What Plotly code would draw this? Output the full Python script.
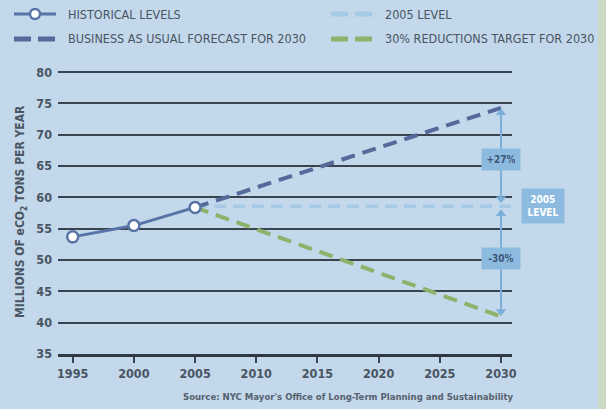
import plotly.graph_objects as go

# ---- data ----
hist_years = [1995, 2000, 2005]
hist_values = [53.7, 55.5, 58.4]
bau_years = [2005, 2030]
bau_values = [58.4, 74.3]
level_years = [2005, 2031.2]
level_values = [58.6, 58.6]
target_years = [2005, 2030]
target_values = [58.4, 41.0]
x_ticks = [1995, 2000, 2005, 2010, 2015, 2020, 2025, 2030]
y_ticks = [35, 40, 45, 50, 55, 60, 65, 70, 75, 80]
legend_labels = ["HISTORICAL LEVELS", "BUSINESS AS USUAL FORECAST FOR 2030",
                 "2005 LEVEL", "30% REDUCTIONS TARGET FOR 2030"]
pct_up, pct_down = "+27%", "-30%"

W, H = 606, 409
L, R, T, B = 58, 94, 69, 55
PW, PH = W - L - R, H - T - B
def px(x): return (x - L) / PW
def py(y): return (H - B - y) / PH

BG = "#c3d8ea"
TXT = "#4a5563"
FONT = "DejaVu Sans Condensed, Liberation Sans Narrow, Roboto, sans-serif"
C_HIST = "#5874a6"
C_BAU = "#55699a"
C_LEVEL = "#a6c9e6"
C_TARGET = "#8db26c"
C_ARROW = "#7caedb"
C_BOX = "#8dbbe0"

fig = go.Figure()
fig.add_trace(go.Scatter(x=level_years, y=level_values, mode="lines",
                         line=dict(color=C_LEVEL, width=3.5, dash="12px,7px"), showlegend=False))
fig.add_trace(go.Scatter(x=bau_years, y=bau_values, mode="lines",
                         line=dict(color=C_BAU, width=4, dash="14px,8px"), showlegend=False))
fig.add_trace(go.Scatter(x=target_years, y=target_values, mode="lines",
                         line=dict(color=C_TARGET, width=4, dash="14px,8px"), showlegend=False))
fig.add_trace(go.Scatter(x=hist_years, y=hist_values, mode="lines+markers",
                         line=dict(color=C_HIST, width=3),
                         marker=dict(symbol="circle", size=11, color="white",
                                     line=dict(color=C_HIST, width=2.5)),
                         showlegend=False))

# double-headed arrows at 2030 (level -> BAU, level -> target)
gap = 1.2
fig.add_trace(go.Scatter(x=[bau_years[1], bau_years[1]], y=[level_values[0] + gap, bau_values[1] - 0.8],
                         mode="lines+markers", line=dict(color=C_ARROW, width=2),
                         marker=dict(symbol=["triangle-down", "triangle-up"], size=9, color=C_ARROW),
                         showlegend=False, hoverinfo="skip"))
fig.add_trace(go.Scatter(x=[target_years[1], target_years[1]], y=[level_values[0] - gap, target_values[1] + 0.8],
                         mode="lines+markers", line=dict(color=C_ARROW, width=2),
                         marker=dict(symbol=["triangle-up", "triangle-down"], size=9, color=C_ARROW),
                         showlegend=False, hoverinfo="skip"))

ann = []
shapes = []
ann.append(dict(x=2030, y=66.0, xref="x", yref="y", text="<b>" + pct_up + "</b>",
                showarrow=False, bgcolor=C_BOX, font=dict(size=10, color="#3d5878", family=FONT),
                borderpad=5, width=28, xanchor="center"))
ann.append(dict(x=2030, y=50.2, xref="x", yref="y", text="<b>" + pct_down + "</b>",
                showarrow=False, bgcolor=C_BOX, font=dict(size=10, color="#3d5878", family=FONT),
                borderpad=5, width=28, xanchor="center"))
ann.append(dict(x=px(543), y=58.6, xref="paper", yref="y", text="<b>2005<br>LEVEL</b>",
                showarrow=False, bgcolor=C_BOX, font=dict(size=10, color="white", family=FONT),
                borderpad=5, width=32, xanchor="center", yanchor="middle"))

# right green strip
shapes.append(dict(type="rect", xref="paper", yref="paper", x0=px(598), x1=px(606),
                   y0=py(409), y1=py(0), fillcolor="#c9d9c2", line=dict(width=0), layer="below"))

# legend
r1, r2 = 14, 39
def leg_line(x0, x1, y, color, dash, width):
    shapes.append(dict(type="line", xref="paper", yref="paper", x0=px(x0), x1=px(x1),
                       y0=py(y), y1=py(y), line=dict(color=color, width=width, dash=dash)))
leg_line(14, 56, r1, C_HIST, "solid", 3)
shapes.append(dict(type="circle", xref="paper", yref="paper", x0=px(30), x1=px(40),
                   y0=py(r1 + 5), y1=py(r1 - 5), fillcolor="white",
                   line=dict(color=C_HIST, width=2.5)))
leg_line(14, 56, r2, C_BAU, "17px,7px", 5)
leg_line(331, 373, r1, C_LEVEL, "17px,7px", 5)
leg_line(331, 373, r2, C_TARGET, "17px,7px", 5)
for (x, y, t) in [(66, r1, legend_labels[0]), (66, r2, legend_labels[1]),
                  (383, r1, legend_labels[2]), (383, r2, legend_labels[3])]:
    ann.append(dict(x=px(x), y=py(y), xref="paper", yref="paper", text=t, showarrow=False,
                    xanchor="left", yanchor="middle", font=dict(size=12.5, color=TXT, family=FONT)))

# y title
ann.append(dict(x=px(21), y=py(212), xref="paper", yref="paper", xanchor="center", yanchor="middle",
                text="<b>MILLIONS OF eCO<sub>2</sub> TONS PER YEAR</b>", textangle=-90,
                showarrow=False, font=dict(size=12, color=TXT, family=FONT)))
# source
ann.append(dict(x=px(516), y=py(396), xref="paper", yref="paper", xanchor="right", yanchor="middle",
                text="<b>Source: NYC Mayor's Office of Long-Term Planning and Sustainability</b>",
                showarrow=False, font=dict(size=9.5, color="#56616f", family=FONT)))

fig.update_layout(
    width=W, height=H, margin=dict(l=L, r=R, t=T, b=B),
    paper_bgcolor=BG, plot_bgcolor=BG,
    annotations=ann, shapes=shapes, showlegend=False,
    xaxis=dict(range=[1993.8, 2030.9], tickvals=x_ticks, ticktext=["<b>%d</b>" % v for v in x_ticks],
               showgrid=False, zeroline=False, ticks="outside", ticklen=6, tickwidth=1.5,
               tickcolor="#3a4550", showline=True, linecolor="#2f3a45", linewidth=3,
               tickfont=dict(size=12.5, color=TXT, family=FONT)),
    yaxis=dict(range=[35, 80.5], tickvals=y_ticks, ticktext=["<b>%d</b>" % v for v in y_ticks],
               showgrid=True, gridcolor="#39444f", gridwidth=1.6, zeroline=False,
               ticklabelstandoff=5,
               tickfont=dict(size=12.5, color=TXT, family=FONT)),
)
fig.write_html("out.html")
